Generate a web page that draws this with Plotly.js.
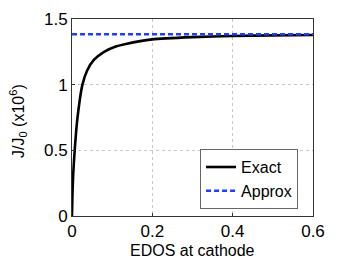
<!DOCTYPE html>
<html>
<head>
<meta charset="utf-8">
<script src="https://cdn.plot.ly/plotly-3.0.1.min.js"></script>
<style>html,body{margin:0;padding:0;background:#fff;}#chart{width:346px;height:260px;}</style>
</head>
<body>
<div id="chart"></div>
<script>
// Values
const edos = [0, 0.001, 0.003, 0.0067, 0.013, 0.026, 0.038, 0.055, 0.08, 0.109, 0.134, 0.2, 0.3, 0.4, 0.5, 0.6];
const exactJ = [0, 0.15, 0.32, 0.5, 0.73, 1.0, 1.11, 1.19, 1.25, 1.29, 1.31, 1.345, 1.362, 1.371, 1.375, 1.378];
const approxX = [0, 0.6];
const approxJ = [1.384, 1.384];
const xTicks = [0, 0.2, 0.4, 0.6];
const xTickText = ["0", "0.2", "0.4", "0.6"];
const yTicks = [0, 0.5, 1, 1.5];
const yTickText = ["0", "0.5", "1", "1.5"];
const xTitle = "EDOS at cathode";
const yTitle = "J/J<sub>0</sub> (x10<sup>6</sup>)";

const fam = "Liberation Sans, Arial, sans-serif";
const data = [
  {x: edos, y: exactJ, type: "scatter", mode: "lines", name: "Exact",
   line: {color: "#000", width: 2.6, shape: "spline", smoothing: 0.6}},
  {x: approxX, y: approxJ, type: "scatter", mode: "lines", name: "Approx",
   line: {color: "#1f3fff", width: 2.6, dash: "5px,3px"}}
];
const layout = {
  width: 346, height: 260,
  margin: {l: 72, r: 33, t: 19, b: 44, pad: 0},
  paper_bgcolor: "#fff", plot_bgcolor: "#fff",
  font: {family: fam, size: 16, color: "#000"},
  showlegend: true,
  legend: {x: 0.938, y: 0.035, xanchor: "right", yanchor: "bottom",
    bgcolor: "#fff", bordercolor: "#666", borderwidth: 1,
    font: {family: fam, size: 16, color: "#000"},
    tracegroupgap: 0, itemwidth: 30},
  xaxis: {range: [0, 0.6], tickvals: xTicks, ticktext: xTickText,
    showgrid: true, gridcolor: "#c8c8c8", griddash: "dot", gridwidth: 1,
    zeroline: false, showline: true, linecolor: "#333", linewidth: 1, mirror: true,
    ticks: "inside", ticklen: 3, tickcolor: "#333",
    tickfont: {family: fam, size: 17, color: "#000"}},
  yaxis: {range: [0, 1.5], tickvals: yTicks, ticktext: yTickText,
    showgrid: true, gridcolor: "#c8c8c8", griddash: "dot", gridwidth: 1,
    zeroline: false, showline: true, linecolor: "#333", linewidth: 1, mirror: true,
    ticks: "inside", ticklen: 3, tickcolor: "#333",
    tickfont: {family: fam, size: 17, color: "#000"}},
  annotations: [
    {text: xTitle, xref: "paper", yref: "paper", x: 0.5, y: -0.173,
     xanchor: "center", yanchor: "middle", showarrow: false,
     font: {family: fam, size: 16, color: "#000"}},
    {text: yTitle, xref: "paper", yref: "paper", x: -0.224, y: 0.482,
     xanchor: "center", yanchor: "middle", textangle: -90, showarrow: false,
     font: {family: fam, size: 16, color: "#000"}}
  ]
};
Plotly.newPlot("chart", data, layout, {staticPlot: true, displayModeBar: false});
</script>
</body>
</html>
